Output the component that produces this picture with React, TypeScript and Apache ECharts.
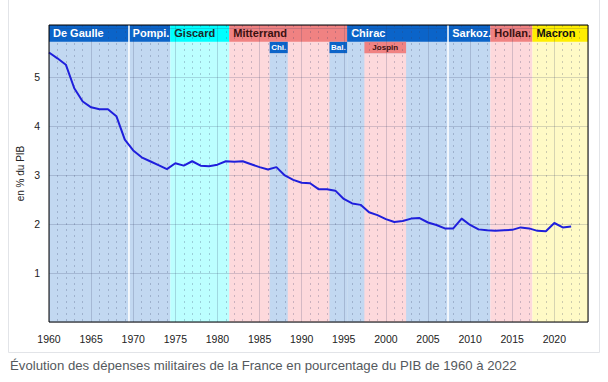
import React, { useEffect, useRef } from "react";
import * as echarts from "echarts";

const years = [
  1960, 1961, 1962, 1963, 1964, 1965, 1966, 1967, 1968, 1969,
  1970, 1971, 1972, 1973, 1974, 1975, 1976, 1977, 1978, 1979,
  1980, 1981, 1982, 1983, 1984, 1985, 1986, 1987, 1988, 1989,
  1990, 1991, 1992, 1993, 1994, 1995, 1996, 1997, 1998, 1999,
  2000, 2001, 2002, 2003, 2004, 2005, 2006, 2007, 2008, 2009,
  2010, 2011, 2012, 2013, 2014, 2015, 2016, 2017, 2018, 2019,
  2020, 2021, 2022,
];
const spending = [
  5.5, 5.38, 5.25, 4.77, 4.5, 4.38, 4.34, 4.34, 4.2, 3.72,
  3.5, 3.36, 3.28, 3.2, 3.12, 3.24, 3.19, 3.28, 3.19, 3.18,
  3.21, 3.28, 3.27, 3.28, 3.22, 3.16, 3.11, 3.16, 2.99, 2.9,
  2.84, 2.83, 2.71, 2.71, 2.68, 2.51, 2.42, 2.39, 2.24, 2.18,
  2.1, 2.04, 2.06, 2.11, 2.12, 2.03, 1.98, 1.91, 1.91, 2.11,
  1.98, 1.89, 1.87, 1.86, 1.87, 1.88, 1.93, 1.91, 1.86, 1.85,
  2.02, 1.93, 1.95,
];

// Presidential terms (header row)
const presNames = ["De Gaulle", "Pompi.", "Giscard", "Mitterrand", "Chirac", "Sarkoz.", "Hollan.", "Macron"];
const presStart = [1960, 1969.45, 1974.4, 1981.4, 1995.4, 2007.4, 2012.4, 2017.4];
const presEnd = [1969.45, 1974.4, 1981.4, 1995.4, 2007.4, 2012.4, 2017.4, 2024];
const presSide = ["right", "right", "centre", "left", "right", "right", "left", "macron"];

// Cohabitation prime ministers (second row)
const cohabNames = ["Chi.", "Bal.", "Jospin"];
const cohabStart = [1986.2, 1993.3, 1997.45];
const cohabEnd = [1988.35, 1995.4, 2002.4];
const cohabSide = ["right", "right", "left"];

const X_MIN = 1960;
const X_MAX = 2024;
const Y_MAX = 6.06;
const HEAD_BOTTOM = 5.716;
const SUB_BOTTOM = 5.485;

const headColor: Record<string, string> = {
  right: "#0b64c9",
  left: "#f08282",
  centre: "#00ffff",
  macron: "#ffee00",
};
const headText: Record<string, string> = {
  right: "#ffffff",
  left: "#3a1010",
  centre: "#1a2a2a",
  macron: "#111111",
};
const bandColor: Record<string, string> = {
  right: "#c2d8f1",
  left: "#fdd9dc",
  centre: "#bcffff",
  macron: "#fffac6",
};

export default function App() {
  const ref = useRef<HTMLDivElement>(null);

  useEffect(() => {
    document.body.style.margin = "0";
    if (!ref.current) return;
    const chart = echarts.init(ref.current, undefined, { renderer: "svg" });

    const lineData = years.map((y, i) => [y, spending[i]]);

    // background bands
    const bands: any[] = [];
    presNames.forEach((n, i) => {
      bands.push([
        { xAxis: presStart[i], itemStyle: { color: bandColor[presSide[i]], opacity: 1 } },
        { xAxis: presEnd[i] },
      ]);
    });
    cohabNames.forEach((n, i) => {
      bands.push([
        { xAxis: cohabStart[i], yAxis: 0, itemStyle: { color: bandColor[cohabSide[i]], opacity: 1 } },
        { xAxis: cohabEnd[i], yAxis: SUB_BOTTOM },
      ]);
    });

    const font = "Liberation Sans, Arial, sans-serif";

    // header
    const heads: any[] = [];
    presNames.forEach((n, i) => {
      heads.push([
        {
          name: n,
          xAxis: presStart[i],
          yAxis: HEAD_BOTTOM,
          itemStyle: { color: headColor[presSide[i]], opacity: 1 },
          label: {
            show: true,
            position: "insideLeft",
            distance: 4,
            color: headText[presSide[i]],
            fontWeight: "bold",
            fontSize: 11,
            fontFamily: font,
          },
        },
        { xAxis: presEnd[i], yAxis: Y_MAX },
      ]);
    });
    cohabNames.forEach((n, i) => {
      heads.push([
        {
          name: n,
          xAxis: cohabStart[i],
          yAxis: SUB_BOTTOM,
          itemStyle: { color: headColor[cohabSide[i]], opacity: 1 },
          label: {
            show: true,
            position: "inside",
            color: headText[cohabSide[i]],
            fontWeight: "bold",
            fontSize: 8,
            fontFamily: font,
          },
        },
        { xAxis: cohabEnd[i], yAxis: HEAD_BOTTOM },
      ]);
    });

    chart.setOption({
      animation: false,
      backgroundColor: "#ffffff",
      grid: {
        left: 49,
        right: 20,
        top: 25,
        bottom: 60,
        show: true,
        borderColor: "#000000",
        borderWidth: 1,
        backgroundColor: "transparent",
        z: 6,
      },
      xAxis: {
        type: "value",
        min: X_MIN,
        max: X_MAX,
        interval: 5,
        z: 2,
        axisLine: { show: false },
        axisTick: { show: false },
        minorTick: { show: false, splitNumber: 5 },
        axisLabel: {
          color: "#222222",
          fontSize: 10.5,
          fontFamily: font,
          margin: 11,
          formatter: (v: number) => (v % 5 === 0 && v <= 2020 ? String(v) : ""),
        },
        splitLine: { show: true, lineStyle: { color: "rgba(50,60,100,0.2)", width: 1 } },
        minorSplitLine: {
          show: true,
          lineStyle: { color: "rgba(50,60,100,0.25)", width: 1, type: [2, 4] },
        },
      },
      yAxis: {
        type: "value",
        min: 0,
        max: Y_MAX,
        interval: 1,
        z: 2,
        name: "en % du PIB",
        nameLocation: "middle",
        nameGap: 24,
        nameMoveOverlap: false,
        nameTextStyle: { color: "#222222", fontSize: 10, fontFamily: font },
        axisLine: { show: false },
        axisTick: { show: false },
        axisLabel: {
          color: "#222222",
          fontSize: 10.5,
          fontFamily: font,
          margin: 9,
          formatter: (v: number) => (v >= 1 && v <= 5 ? String(v) : ""),
        },
        splitLine: { show: true, lineStyle: { color: "rgba(50,60,100,0.2)", width: 1 } },
      },
      series: [
        {
          type: "line",
          z: 1,
          silent: true,
          data: lineData,
          symbol: "none",
          lineStyle: { width: 0, opacity: 0 },
          markArea: { silent: true, data: bands },
        },
        {
          type: "line",
          z: 4,
          silent: true,
          data: lineData,
          symbol: "none",
          lineStyle: { width: 0, opacity: 0 },
          markArea: { silent: true, data: heads },
          markLine: {
            silent: true,
            symbol: "none",
            label: { show: false },
            lineStyle: { color: "#ffffff", width: 1.5, type: "solid" },
            data: [{ xAxis: presStart[1] }, { xAxis: presStart[5] }],
          },
        },
        {
          type: "line",
          z: 5,
          data: lineData,
          symbol: "none",
          lineStyle: { color: "#1f1fdc", width: 2 },
        },
      ],
      graphic: [
        {
          type: "rect",
          shape: { x: 8.5, y: -2, width: 591, height: 354.5 },
          style: { fill: "none", stroke: "#e2e4e8", lineWidth: 1 },
          silent: true,
        },
        {
          type: "text",
          left: 10,
          top: 359,
          style: {
            text: "Évolution des dépenses militaires de la France en pourcentage du PIB de 1960 à 2022",
            fill: "#54595d",
            fontSize: 13.2,
            fontFamily: font,
          },
        },
      ],
    });

    return () => chart.dispose();
  }, []);

  return <div ref={ref} style={{ width: 608, height: 382 }} />;
}
